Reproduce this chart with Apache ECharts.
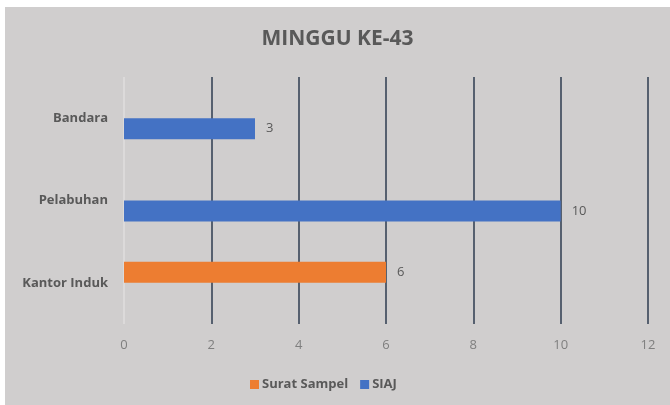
<!DOCTYPE html>
<html>
<head>
	<meta charset="utf-8">
	<title>MINGGU KE-43</title>
	<script src="https://cdn.jsdelivr.net/npm/echarts@6/dist/echarts.min.js"></script>
	<style>
        html,body{
            height:100%;
            width: 100%;
            margin: 0;
            padding: 0;
            background: #ffffff;
        }
        #chart{
            position: absolute;
            left: 5px;
            top: 7px;
            width: 665px;
            height: 398px;
            background: #d0cece;
        }
    </style>
</head>
<body>
	<div id="chart"></div>
	<script type="text/javascript">
		var categories = ['Kantor Induk', 'Pelabuhan', 'Bandara'];
		var suratSampel = [6, null, null];
		var siaj = [null, 10, 3];
		var ticks = [0, 2, 4, 6, 8, 10, 12];

		var chart = echarts.init(document.getElementById('chart'));
		var FONT = '"Open Sans", Lato, sans-serif';

		var option = {
			animation: false,
			textStyle: { fontFamily: FONT },
			title: {
				text: 'MINGGU KE-43',
				left: 'center',
				top: 17,
				textStyle: { fontSize: 21, fontWeight: 'bold', color: '#595959', fontFamily: FONT }
			},
			legend: {
				top: 366,
				left: 240,
				itemWidth: 9,
				itemHeight: 9,
				itemGap: 12,
				icon: 'rect',
				textStyle: { fontSize: 13, fontWeight: 'bold', color: '#595959', padding: [0, 0, 0, -2] },
				data: ['Surat Sampel', 'SIAJ']
			},
			grid: { left: 119, right: 22, top: 70, bottom: 81, containLabel: false },
			xAxis: {
				type: 'value',
				min: ticks[0],
				max: ticks[ticks.length - 1],
				interval: 2,
				axisLine: { show: false },
				axisTick: { show: false },
				axisLabel: { color: '#7f7f7f', fontSize: 13, margin: 15 },
				splitLine: {
					lineStyle: {
						width: 2,
						color: ['#dcdada', '#56606f', '#56606f', '#56606f', '#56606f', '#56606f', '#56606f']
					}
				}
			},
			yAxis: {
				type: 'category',
				data: categories,
				axisLine: { show: false },
				axisTick: { show: false },
				axisLabel: { color: '#595959', fontSize: 13, fontWeight: 'bold', margin: 16 }
			},
			series: [
				{
					name: 'Surat Sampel',
					type: 'bar',
					data: suratSampel,
					barWidth: 21,
					barGap: '0%',
					itemStyle: { color: '#ed7d31' },
					label: { show: true, position: 'right', distance: 11, color: '#595959', fontSize: 13 }
				},
				{
					name: 'SIAJ',
					type: 'bar',
					data: siaj,
					barWidth: 21,
					barGap: '0%',
					itemStyle: { color: '#4472c4' },
					label: { show: true, position: 'right', distance: 11, color: '#595959', fontSize: 13 }
				}
			]
		};

		chart.setOption(option);
	</script>
</body>
</html>
